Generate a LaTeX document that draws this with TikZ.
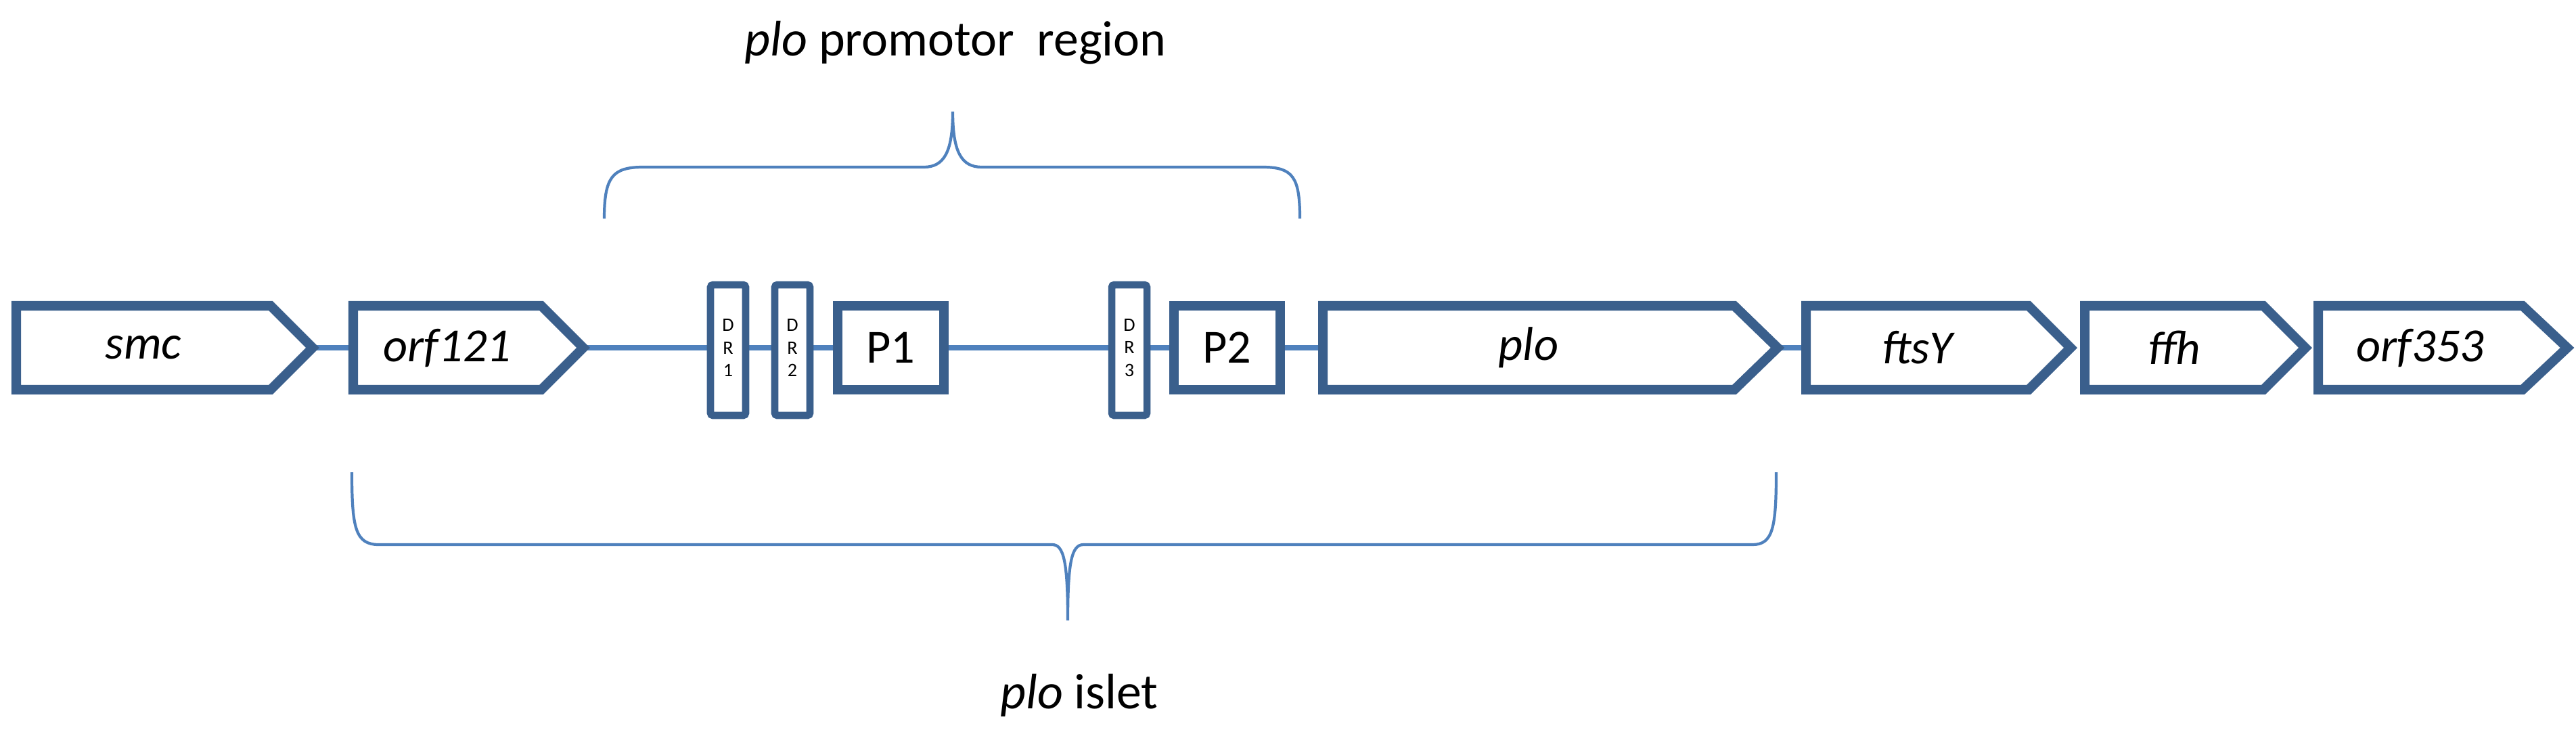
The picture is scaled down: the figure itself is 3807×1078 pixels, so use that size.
\documentclass[tikz,border=0pt]{standalone}
\usepackage{fontspec}
\setmainfont{Carlito}
\begin{document}
\begin{tikzpicture}[x=0.01cm,y=-0.01cm,
  gene/.style={draw=boxc,line width=4pt,fill=white,line join=miter},
  link/.style={draw=linec,line width=2.2pt},
  brace/.style={draw=linec,line width=1.2pt},
  lab/.style={font=\fontsize{20}{24}\selectfont\itshape},
  dr/.style={font=\fontsize{8}{9.5}\selectfont,align=center}]
\definecolor{boxc}{HTML}{3A5F8C}
\definecolor{linec}{HTML}{4F81BD}
\useasboundingbox (0,0) rectangle (3807,1078);
% backbone links
\coordinate (smcR) at (462,514);
\coordinate (orfL) at (522,514);
\draw[link] (462,514) -- (3050,514);
% genes
\def\gene#1#2#3#4#5{%
 \draw[gene] (#2,452) -- (#3,452) -- (#4,514) -- (#3,576) -- (#2,576) -- cycle;
 \node[lab] (#1) at ({(#2+#3)/2},514) {#5};}
\gene{smc}{24}{400}{462}{smc}
\gene{orf121}{522}{800}{862}{orf121}
\gene{plo}{1955}{2563}{2627}{plo}
\gene{ftsY}{2669}{2998}{3060}{ftsY}
\gene{ffh}{3081}{3345}{3407}{ffh}
\gene{orfc}{3426}{3728}{3794}{orf353}
% P boxes
\draw[gene] (1238,452) rectangle (1395,576); \node[font=\fontsize{20}{24}\selectfont] (p1) at (1316,514) {P1};
\draw[gene] (1735,452) rectangle (1892,576); \node[font=\fontsize{20}{24}\selectfont] (p2) at (1813,514) {P2};
% DR boxes
\foreach \n/\x/\t in {dra/1076/1,drb/1171/2,drc/1669/3}{
 \draw[draw=boxc,line width=3pt,fill=white,rounded corners=1pt] (\x-26,421) rectangle (\x+26,614);
 \node[dr] (\n) at (\x,514) {D\\R\\\t};}
% top brace
\draw[brace] (893,323) .. controls (893,262) and (905,247) .. (950,247) -- (1365,247)
  .. controls (1395,247) and (1408,225) .. (1408,165)
  .. controls (1408,225) and (1421,247) .. (1451,247) -- (1866,247)
  .. controls (1911,247) and (1921,262) .. (1921,323);
\node[font=\fontsize{21}{25}\selectfont,anchor=base] (tt) at (1412,82) {\textit{plo} promotor\ \ region};
% bottom brace
\draw[brace] (520,698) .. controls (520,780) and (525,805) .. (560,805) -- (1555,805)
  .. controls (1572,805) and (1578,830) .. (1578,917)
  .. controls (1578,830) and (1584,805) .. (1601,805) -- (2590,805)
  .. controls (2620,805) and (2625,780) .. (2625,698);
\node[font=\fontsize{21}{25}\selectfont,anchor=base] (bt) at (1595,1047) {\textit{plo} islet};
\end{tikzpicture}
\end{document}
